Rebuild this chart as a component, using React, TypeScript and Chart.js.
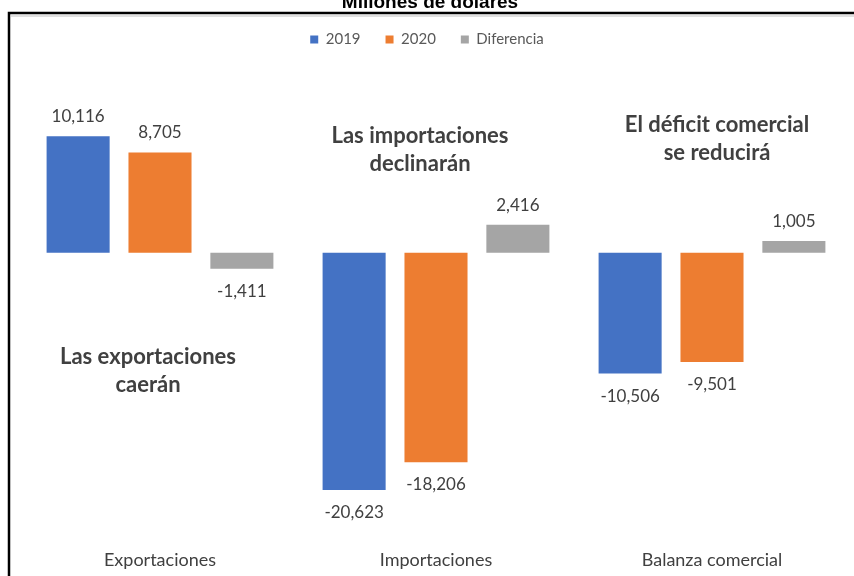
import { useEffect, useRef } from "react";
import { Chart, registerables } from "chart.js";

Chart.register(...registerables);

const categories = ["Exportaciones", "Importaciones", "Balanza comercial"];
const seriesNames = ["2019", "2020", "Diferencia"];
const values2019 = [10116, -20623, -10506];
const values2020 = [8705, -18206, -9501];
const valuesDiff = [-1411, 2416, 1005];
const seriesColors = ["#4472C4", "#ED7D31", "#A5A5A5"];
const chartTitle = "Millones de dólares";
const noteLines = [
  ["Las exportaciones", "caerán"],
  ["Las importaciones", "declinarán"],
  ["El déficit comercial", "se reducirá"],
];

const fmt = (v: number) => v.toLocaleString("en-US");
const FONT = "Lato, 'Open Sans', sans-serif";

const decorPlugin = {
  id: "decor",
  beforeDraw(chart: any) {
    const ctx = chart.ctx;
    ctx.save();
    ctx.fillStyle = "#ffffff";
    ctx.fillRect(0, 0, chart.width, chart.height);
    ctx.restore();
  },
  afterDraw(chart: any) {
    const ctx = chart.ctx;
    ctx.save();
    // frame
    ctx.strokeStyle = "#000000";
    ctx.lineWidth = 2.5;
    ctx.beginPath();
    ctx.moveTo(9, chart.height + 5);
    ctx.lineTo(9, 13);
    ctx.lineTo(chart.width + 5, 13);
    ctx.stroke();
    ctx.strokeStyle = "rgba(0,0,0,0.12)";
    ctx.lineWidth = 2;
    ctx.beginPath();
    ctx.moveTo(11, 16);
    ctx.lineTo(chart.width + 5, 16);
    ctx.stroke();
    // title (cut at top)
    ctx.fillStyle = "#000000";
    ctx.font = "bold 19px 'Liberation Sans', Arial, sans-serif";
    ctx.textAlign = "center";
    ctx.textBaseline = "alphabetic";
    ctx.fillText(chartTitle, 430, 8);
    // annotations
    const xs = chart.scales.x;
    const notePos = [
      { dx: -12, y: 357 },
      { dx: -16, y: 136 },
      { dx: 5, y: 125 },
    ];
    ctx.fillStyle = "#404040";
    ctx.font = "bold 22px " + FONT;
    ctx.textBaseline = "middle";
    noteLines.forEach((lines, i) => {
      const cx = xs.getPixelForValue(i) + notePos[i].dx;
      lines.forEach((t, k) => {
        ctx.fillText(t, cx, notePos[i].y + k * 28);
      });
    });
    ctx.restore();
  },
  afterDatasetsDraw(chart: any) {
    const ctx = chart.ctx;
    ctx.save();
    ctx.fillStyle = "#404040";
    ctx.font = "17px " + FONT;
    ctx.textAlign = "center";
    chart.data.datasets.forEach((ds: any, i: number) => {
      const meta = chart.getDatasetMeta(i);
      meta.data.forEach((bar: any, j: number) => {
        const v = ds.data[j];
        if (v >= 0) {
          ctx.textBaseline = "bottom";
          ctx.fillText(fmt(v), bar.x, bar.y - 11);
        } else {
          ctx.textBaseline = "top";
          ctx.fillText(fmt(v), bar.x, bar.y + 14);
        }
      });
    });
    ctx.restore();
  },
};

export default function App() {
  const ref = useRef<HTMLCanvasElement>(null);
  useEffect(() => {
    const chart = new Chart(ref.current!, {
      type: "bar",
      data: {
        labels: categories,
        datasets: [values2019, values2020, valuesDiff].map((d, i) => ({
          label: seriesNames[i],
          data: d,
          backgroundColor: seriesColors[i],
          borderWidth: 0,
          categoryPercentage: 0.89,
          barPercentage: 0.77,
        })),
      },
      options: {
        animation: false,
        responsive: false,
        maintainAspectRatio: false,
        layout: { padding: { top: 7, left: 4, right: 4, bottom: 0 } },
        plugins: {
          legend: {
            position: "top",
            labels: {
              boxWidth: 8,
              boxHeight: 8,
              padding: 25,
              color: "#595959",
              font: { size: 15, family: FONT },
            },
          },
          tooltip: { enabled: false },
          title: { display: false },
        },
        scales: {
          x: {
            grid: { display: false, drawTicks: false },
            border: { display: false },
            ticks: {
              padding: 5,
              color: "#404040",
              font: { size: 18, family: FONT },
            },
          },
          y: {
            min: -25340,
            max: 16990,
            border: { display: false },
            afterFit: (s: any) => {
              s.width = 18;
            },
            grid: {
              drawTicks: false,
              color: (c: any) => (c.tick && c.tick.value === 0 ? "#D9D9D9" : "rgba(0,0,0,0)"),
              lineWidth: 1.5,
            },
            ticks: { display: false, stepSize: 10 },
          },
        },
      },
      plugins: [decorPlugin],
    });
    return () => chart.destroy();
  }, []);
  return (
    <div style={{ position: "absolute", left: 0, top: 0, width: 854, height: 576 }}>
      <canvas ref={ref} width={854} height={576} style={{ display: "block" }} />
    </div>
  );
}
